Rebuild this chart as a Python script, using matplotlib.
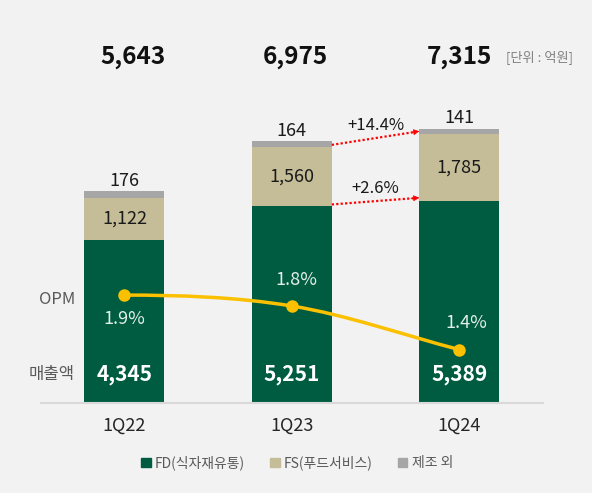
import numpy as np
import matplotlib
matplotlib.use("Agg")
import matplotlib.pyplot as plt
from matplotlib.path import Path
from matplotlib.patches import PathPatch, Patch

plt.rcParams['font.family'] = ['Noto Sans CJK KR', 'DejaVu Sans']

# data
quarters = ["1Q22", "1Q23", "1Q24"]
fd = [4345, 5251, 5389]      # FD(식자재유통)
fs = [1122, 1560, 1785]      # FS(푸드서비스)
etc = [176, 164, 141]        # 제조 외
opm = [1.9, 1.8, 1.4]
growth_labels = ["+14.4%", "+2.6%"]

c_fd = "#005c40"
c_fs = "#c5bd98"
c_etc = "#a6a6a6"
c_opm = "#fbc000"
bg = "#f2f2f2"

W, H = 592, 493
fig = plt.figure(figsize=(W / 100, H / 100), dpi=100, facecolor=bg)

base_px = 402.7
ax = fig.add_axes([40.7 / W, (H - base_px) / H, (543 - 40.7) / W, base_px / H])
ax.set_facecolor(bg)
ax.set_xlim(-0.5, 2.5)
ax.set_ylim(0, base_px / 0.03747)
for s in ["top", "right", "left"]:
    ax.spines[s].set_visible(False)
ax.spines["bottom"].set_color("#d9d9d9")
ax.spines["bottom"].set_linewidth(1.5)
ax.set_yticks([])
ax.set_xticks(range(3))
ax.set_xticklabels(quarters, fontsize=13, color="#262626")
ax.tick_params(axis="x", length=0, pad=10)

x = np.arange(3)
w = 0.477
fd_a, fs_a, etc_a = np.array(fd), np.array(fs), np.array(etc)
ax.bar(x, fd_a, w, color=c_fd, zorder=2)
ax.bar(x, fs_a, w, bottom=fd_a, color=c_fs, zorder=2)
ax.bar(x, etc_a, w, bottom=fd_a + fs_a, color=c_etc, zorder=2)

totals = fd_a + fs_a + etc_a
tot_dx = [0.05, 0.02, 0.0]
for i in range(3):
    ax.text(x[i] + tot_dx[i], 9226, f"{totals[i]:,}", ha="center", va="center",
            fontsize=17.5, fontweight="bold", color="#111111")
    ax.text(x[i], 740, f"{fd[i]:,}", ha="center", va="center",
            fontsize=15, fontweight="bold", color="white", zorder=4)
    ax.text(x[i], fd_a[i] + fs_a[i] / 2, f"{fs[i]:,}", ha="center", va="center",
            fontsize=13, color="#1a1a1a", zorder=4)
    ax.annotate(f"{etc[i]:,}", (x[i], totals[i]), xytext=(0, 1), textcoords="offset points",
                ha="center", va="bottom", fontsize=13, color="#1a1a1a")

ax.text(x[2] + 0.48, 9226, "[단위 : 억원]", ha="center", va="center",
        fontsize=9.5, color="#808080")

# growth arrows between 1Q23 and 1Q24
starts = [fd_a[1] + fs_a[1] + 70, fd_a[1] + 40]
ends = [fd_a[2] + fs_a[2] + 70, fd_a[2] + 80]
x0, x1 = x[1] + w / 2, x[2] - w / 2
for lab, y0, y1 in zip(growth_labels, starts, ends):
    ax.plot([x0, x1 - 0.03], [y0, y1 - (y1 - y0) * 0.03 / (x1 - x0)], color="red",
            lw=1.6, linestyle=(0, (1, 1)), zorder=3)
    ax.annotate("", xy=(x1, y1), xytext=(x1 - 0.05, y1 - (y1 - y0) * 0.05 / (x1 - x0)),
                arrowprops=dict(arrowstyle="-|>", color="red", lw=0.5,
                                mutation_scale=9, shrinkA=0, shrinkB=0), zorder=3)
    ax.annotate(lab, ((x0 + x1) / 2, (y0 + y1) / 2), xytext=(0, 9), textcoords="offset points",
                ha="center", va="center", fontsize=12, color="#1a1a1a")

# OPM line on twin axis, smoothed with bezier segments
ax2 = ax.twinx()
ax2.set_ylim(0.913, 4.607)
ax2.axis("off")
P = np.column_stack([x, opm]).astype(float)
T = np.zeros_like(P)
T[0] = [1.0, 0.0]
T[1] = (P[2] - P[0]) / 2
T[2] = P[2] - P[1]
verts = [P[0]]
codes = [Path.MOVETO]
for i in range(2):
    verts += [P[i] + T[i] / 3, P[i + 1] - T[i + 1] / 3, P[i + 1]]
    codes += [Path.CURVE4] * 3
ax2.add_patch(PathPatch(Path(verts, codes), facecolor="none", edgecolor=c_opm, lw=2.5, zorder=5))
ax2.plot(x, opm, "o", color=c_opm, ms=8, zorder=6)

opm_dx = [0, 0.03, 0.04]
opm_dy = [-17, 19, 19]
for i in range(3):
    ax2.annotate(f"{opm[i]}%", (x[i] + opm_dx[i], opm[i]), xytext=(0, opm_dy[i]),
                 textcoords="offset points", ha="center", va="center",
                 fontsize=13, color="#e3efe9", zorder=7)

fig.text(57 / W, 1 - 299 / H, "OPM", ha="center", va="center", fontsize=12, color="#595959")
fig.text(52 / W, 1 - 374 / H, "매출액", ha="center", va="center", fontsize=12, color="#595959")

handles = [Patch(color=c_fd, label="FD(식자재유통)"),
           Patch(color=c_fs, label="FS(푸드서비스)"),
           Patch(color=c_etc, label="제조 외")]
leg = fig.legend(handles=handles, loc="center", bbox_to_anchor=(297 / W, 1 - 463 / H),
                 ncol=3, frameon=False, fontsize=10, handlelength=0.7, handleheight=0.7,
                 handletextpad=0.3, columnspacing=1.8)
for t in leg.get_texts():
    t.set_color("#595959")

fig.savefig("out.png", dpi=100, facecolor=bg)
